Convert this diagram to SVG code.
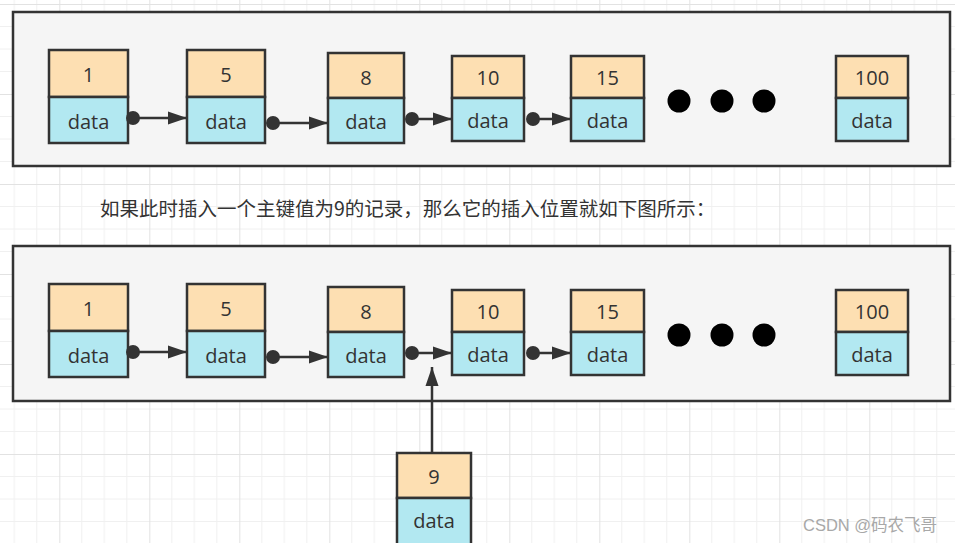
<svg xmlns="http://www.w3.org/2000/svg" width="955" height="543" viewBox="0 0 955 543">
<defs>
<pattern id="grid" x="59.3" y="4" width="90" height="90" patternUnits="userSpaceOnUse">
<path d="M22.5 0V90M45 0V90M67.5 0V90M0 22.5H90M0 45H90M0 67.5H90" stroke="#f0f0f0" stroke-width="1" fill="none"/>
<path d="M0.5 0V90M0 0.5H90" stroke="#e2e2e2" stroke-width="1" fill="none"/>
</pattern>
<marker id="arr" markerUnits="userSpaceOnUse" markerWidth="20" markerHeight="14" refX="19" refY="7" orient="auto">
<path d="M0 0.5L19 7L0 13.5Z" fill="#333"/>
</marker>
<marker id="dot" markerUnits="userSpaceOnUse" markerWidth="16" markerHeight="16" refX="8" refY="8" orient="auto">
<circle cx="8" cy="8" r="7" fill="#333"/>
</marker>
<style>
.cont{fill:#f5f5f5;stroke:#333;stroke-width:2.5}
.top{fill:#fddfb2;stroke:#333;stroke-width:2.5}
.bot{fill:#b2e8f1;stroke:#333;stroke-width:2.5}
.t{font-family:"Open Sans","Liberation Sans",sans-serif;font-size:20px;fill:#333;text-anchor:middle;dominant-baseline:central}
.c{stroke:#333;stroke-width:2.5;fill:none;marker-start:url(#dot);marker-end:url(#arr)}
.v{stroke:#333;stroke-width:2.5;fill:none;marker-end:url(#arr)}
.e{fill:#000}
.cap{font-family:"Noto Sans CJK SC","Noto Sans",sans-serif;font-size:19.5px;fill:#333}
.wm{font-family:"Liberation Sans","Noto Sans CJK SC",sans-serif;font-size:16.5px;fill:#a8a8a8}
</style>
</defs>
<rect width="955" height="543" fill="#fff"/>
<rect width="955" height="543" fill="url(#grid)"/>

<g id="container-top"><rect class="cont" x="13" y="12" width="937" height="154"/></g>
<g id="container-bottom"><rect class="cont" x="13" y="246" width="937" height="155"/></g>

<g id="t1"><rect class="top" x="49" y="50" width="79" height="47"/><rect class="bot" x="49" y="97" width="79" height="46"/><text class="t" x="88.5" y="74">1</text><text class="t" x="88.5" y="121">data</text></g>
<g id="t5"><rect class="top" x="187" y="50" width="78" height="47"/><rect class="bot" x="187" y="97" width="78" height="46"/><text class="t" x="226" y="74">5</text><text class="t" x="226" y="121">data</text></g>
<g id="t8"><rect class="top" x="328" y="53" width="76" height="45"/><rect class="bot" x="328" y="98" width="76" height="45"/><text class="t" x="366" y="77">8</text><text class="t" x="366" y="121">data</text></g>
<g id="t10"><rect class="top" x="452" y="56" width="72" height="42"/><rect class="bot" x="452" y="98" width="72" height="43"/><text class="t" x="488" y="77">10</text><text class="t" x="488" y="120">data</text></g>
<g id="t15"><rect class="top" x="571" y="56" width="73" height="42"/><rect class="bot" x="571" y="98" width="73" height="43"/><text class="t" x="607.5" y="77">15</text><text class="t" x="607.5" y="120">data</text></g>
<g id="t100"><rect class="top" x="836" y="56" width="72" height="42"/><rect class="bot" x="836" y="98" width="72" height="43"/><text class="t" x="872" y="77">100</text><text class="t" x="872" y="120">data</text></g>
<g id="tdots"><circle class="e" cx="679" cy="101" r="11.5"/><circle class="e" cx="722" cy="101" r="11.5"/><circle class="e" cx="764" cy="101" r="11.5"/></g>

<g id="b1"><rect class="top" x="49" y="284" width="79" height="47"/><rect class="bot" x="49" y="331" width="79" height="46"/><text class="t" x="88.5" y="308">1</text><text class="t" x="88.5" y="355">data</text></g>
<g id="b5"><rect class="top" x="187" y="284" width="78" height="47"/><rect class="bot" x="187" y="331" width="78" height="46"/><text class="t" x="226" y="308">5</text><text class="t" x="226" y="355">data</text></g>
<g id="b8"><rect class="top" x="328" y="287" width="76" height="45"/><rect class="bot" x="328" y="332" width="76" height="45"/><text class="t" x="366" y="311">8</text><text class="t" x="366" y="355">data</text></g>
<g id="b10"><rect class="top" x="452" y="290" width="72" height="42"/><rect class="bot" x="452" y="332" width="72" height="43"/><text class="t" x="488" y="311">10</text><text class="t" x="488" y="354">data</text></g>
<g id="b15"><rect class="top" x="571" y="290" width="73" height="42"/><rect class="bot" x="571" y="332" width="73" height="43"/><text class="t" x="607.5" y="311">15</text><text class="t" x="607.5" y="354">data</text></g>
<g id="b100"><rect class="top" x="836" y="290" width="72" height="42"/><rect class="bot" x="836" y="332" width="72" height="43"/><text class="t" x="872" y="311">100</text><text class="t" x="872" y="354">data</text></g>
<g id="bdots"><circle class="e" cx="679" cy="335" r="11.5"/><circle class="e" cx="722" cy="335" r="11.5"/><circle class="e" cx="764" cy="335" r="11.5"/></g>

<g id="n9"><rect class="top" x="397" y="453" width="74" height="45"/><rect class="bot" x="397" y="498" width="74" height="47"/><text class="t" x="434" y="476">9</text><text class="t" x="434" y="520">data</text></g>

<g id="connectors">
<path class="c" d="M133 118H187"/>
<path class="c" d="M273 123H328"/>
<path class="c" d="M412 119H452"/>
<path class="c" d="M533 119H571"/>
<path class="c" d="M133 352H187"/>
<path class="c" d="M273 357H328"/>
<path class="c" d="M412 353H452"/>
<path class="c" d="M533 353H571"/>
<path class="v" d="M432 453V367"/>
</g>

<text class="cap" x="100" y="216">如果此时插入一个主键值为9的记录，那么它的插入位置就如下图所示：</text>
<text class="wm" x="803" y="531">CSDN @码农飞哥</text>
</svg>
